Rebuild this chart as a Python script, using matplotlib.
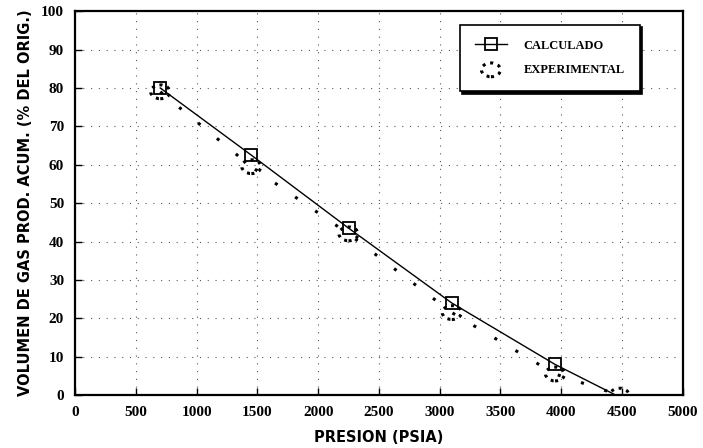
import numpy as np
import matplotlib.pyplot as plt
from matplotlib.path import Path

# valores
presion_calc = [700, 1450, 2250, 3100, 3950, 4450]
vol_calc = [80, 62.5, 43.5, 24, 8, 0]

presion_exp = [700, 1450, 2250, 3100, 3950, 4480]
vol_exp = [79, 59.5, 42, 21.5, 5.5, 0]

xticks = [0, 500, 1000, 1500, 2000, 2500, 3000, 3500, 4000, 4500, 5000]
yticks = [0, 10, 20, 30, 40, 50, 60, 70, 80, 90, 100]

# marcador eliptico (mas ancho que alto)
circ = Path.unit_circle()
elipse = Path(circ.vertices * np.array([1.0, 0.72]), circ.codes)

fig = plt.figure(figsize=(7.03, 4.48), dpi=100)
ax = fig.add_axes([0.107, 0.118, 0.864, 0.857])

# rejilla punteada
ax.grid(True, color='0.35', linestyle=(0, (1, 6)), linewidth=0.8)

# curva calculada
ax.plot(presion_calc, vol_calc, color='k', linewidth=1.0, zorder=3)
ax.plot(presion_calc[:-1], vol_calc[:-1], linestyle='none', marker='s', markersize=9,
        markerfacecolor='none', markeredgecolor='k', markeredgewidth=1.3, zorder=4)

# curva experimental
ax.plot(presion_exp, vol_exp, color='k', linestyle=(0, (1, 7)), linewidth=2.2, zorder=3)
sc = ax.scatter(presion_exp, vol_exp, s=190, marker=elipse, facecolors='none', edgecolors='k',
                linestyles=(0, (1, 1.6)), linewidths=2.2, zorder=4)

ax.set_xlim(0, 5000)
ax.set_ylim(0, 100)
ax.set_xticks(xticks)
ax.set_yticks(yticks)
ax.tick_params(direction='in', length=5, width=1, pad=8)
for lbl in ax.get_xticklabels() + ax.get_yticklabels():
    lbl.set_family('Liberation Serif')
    lbl.set_fontsize(11)
    lbl.set_fontweight('bold')
for s in ax.spines.values():
    s.set_linewidth(1.6)

ax.set_xlabel('PRESION (PSIA)', fontsize=10.5, fontweight='bold', labelpad=8)
ax.set_ylabel('VOLUMEN DE GAS PROD. ACUM. (% DEL ORIG.)', fontsize=10.5, fontweight='bold', labelpad=6)

# leyenda con sombra
h1 = plt.Line2D([], [], color='k', linewidth=1.0, marker='s', markersize=9,
                markerfacecolor='none', markeredgecolor='k', markeredgewidth=1.3)
leg = ax.legend([h1, sc], ['CALCULADO', 'EXPERIMENTAL'], loc='upper left',
                bbox_to_anchor=(0.633, 0.965), frameon=True,
                shadow={'color': 'k', 'alpha': 1}, fancybox=False,
                prop={'family': 'Liberation Serif', 'weight': 'bold', 'size': 9},
                borderpad=1.2, labelspacing=1.0, handlelength=2.6, handletextpad=1.3,
                borderaxespad=0, scatterpoints=1)
leg.get_frame().set_edgecolor('k')
leg.get_frame().set_linewidth(1.2)
leg.set_zorder(10)

fig.savefig('out.png', dpi=100)
